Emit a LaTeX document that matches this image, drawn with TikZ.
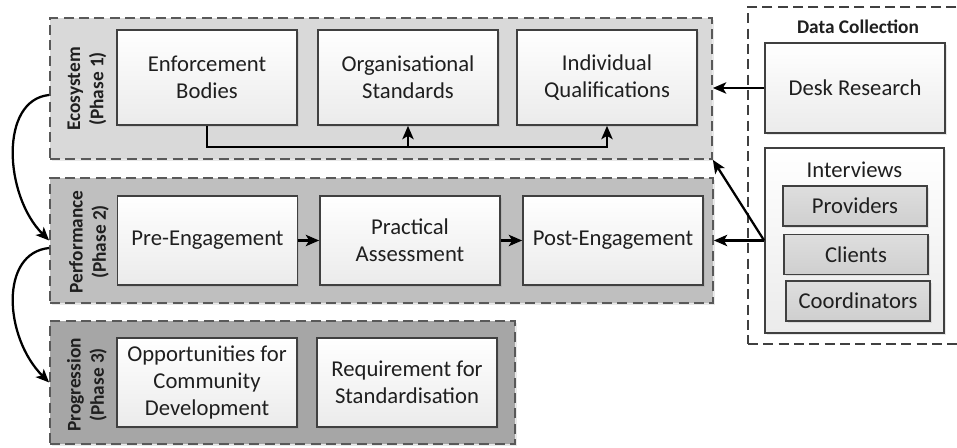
\documentclass[tikz,border=0pt]{standalone}
\usepackage{fontspec}
\setmainfont{Carlito}
\usetikzlibrary{arrows.meta,shadows,calc}

\definecolor{boxline}{HTML}{404040}
\definecolor{dashline}{HTML}{595959}
\definecolor{boxshade}{HTML}{EBEBEB}
\definecolor{phaseone}{HTML}{D9D9D9}
\definecolor{phasetwo}{HTML}{BFBFBF}
\definecolor{phasethree}{HTML}{A6A6A6}
\definecolor{subtop}{HTML}{DEDEDE}
\definecolor{subbottom}{HTML}{CFCFCF}
\definecolor{textcol}{HTML}{1F1F1F}

\tikzset{every picture/.style={line width=0.75pt}}
\tikzset{
	softshadow/.style={drop shadow={shadow xshift=1.2pt,shadow yshift=-1.2pt,opacity=.18}},
	phasebox/.style={draw=dashline,line width=1.3pt,dash pattern={on 7.5pt off 4pt},inner sep=0pt,softshadow},
	stagebox/.style={draw=boxline,line width=1.3pt,top color=white,bottom color=boxshade,
		minimum width=135pt,align=center,text=textcol,font=\fontsize{17}{20.5}\selectfont,softshadow},
	subbox/.style={draw=boxline,line width=1.3pt,top color=subtop,bottom color=subbottom,
		minimum width=108pt,minimum height=30pt,text=textcol,font=\fontsize{17}{20.5}\selectfont,softshadow},
	phaselabel/.style={rotate=90,align=center,text=textcol,font=\fontsize{14.5}{17.5}\selectfont\bfseries},
	flow/.style={draw=black,line width=1.7pt,-{Stealth[length=10pt,width=8.5pt,inset=2.5pt]}}
}

\begin{document}
\begin{tikzpicture}[x=0.75pt,y=0.75pt,yscale=-1,xscale=1]
	\useasboundingbox (0,0) rectangle (957,448);
	
	% Containers
	\node [phasebox,fill=phaseone,minimum width=496.5pt,minimum height=105.75pt] (phase1) at (381,88.5) {};
	\node [phasebox,fill=phasetwo,minimum width=497.25pt,minimum height=93.75pt] (phase2) at (381.5,240.5) {};
	\node [phasebox,fill=phasethree,minimum width=348.75pt,minimum height=92.25pt] (phase3) at (282.5,382.5) {};
	\node [draw=boxline,line width=1pt,dash pattern={on 7.5pt off 4pt},fill=white,inner sep=0pt,
		minimum width=170.25pt,minimum height=252.75pt] (datacoll) at (861.5,175.5) {};
	
	% Text Node
	\node [phaselabel] (lab1) at (87,89) {Ecosystem\\(Phase 1)};
	\node [phaselabel] (lab2) at (89,242) {Performance\\(Phase 2)};
	\node [phaselabel] (lab3) at (87,385) {Progression\\(Phase 3)};
	\node [text=textcol,font=\fontsize{14.5}{17.5}\selectfont\bfseries] (dctitle) at (858,27) {Data Collection};
	
	% Phase 1 stages
	\node [stagebox,minimum height=71.25pt] (enf) at (207,77.5) {Enforcement\\Bodies};
	\node [stagebox,minimum height=71.25pt] (org) at (408,77.5) {Organisational\\Standards};
	\node [stagebox,minimum height=71.25pt] (indiv) at (607,77.5) {Individual\\Qualifications};
	
	% Phase 2 stages
	\node [stagebox,minimum height=66.75pt] (pre) at (207.5,240.5) {Pre-Engagement};
	\node [stagebox,minimum height=66.75pt] (prac) at (410,240.5) {Practical\\Assessment};
	\node [stagebox,minimum height=66.75pt] (post) at (613,240.5) {Post-Engagement};
	
	% Phase 3 stages
	\node [stagebox,minimum height=66.75pt] (opp) at (207,382.5) {Opportunities for\\Community\\Development};
	\node [stagebox,minimum height=66.75pt] (req) at (407,382.5) {Requirement for\\Standardisation};
	
	% Sources
	\node [stagebox,minimum height=67.5pt] (desk) at (855,88) {Desk Research};
	\node [stagebox,minimum width=134.25pt,minimum height=138.75pt] (intv) at (854.5,240.5) {};
	\node [text=textcol,font=\fontsize{17}{20.5}\selectfont] (intvtitle) at (854.5,170) {Interviews};
	\node [subbox] (prov) at (855,206) {Providers};
	\node [subbox] (cli) at (856,254.5) {Clients};
	\node [subbox] (coord) at (858,301) {Coordinators};
	
	%Straight Lines
	\coordinate (bus) at (0,147);
	\draw [flow] (enf.south) |- (bus -| indiv.south) -- (indiv.south);
	\draw [flow] (bus -| org.south) -- (org.south);
	\draw [flow] (pre.east) -- (prac.west);
	\draw [flow] (prac.east) -- (post.west);
	\draw [flow] (desk.west) -- (desk.west -| phase1.east);
	\draw [flow] (intv.west) -- (intv.west -| phase2.east);
	\draw [flow] (intv.west) -- (phase1.south east);
	
	%Curve Lines
	\draw [flow] ($(phase1.west)+(0,6.5)$) .. controls +(-50,5) and +(-45,-45) .. (phase2.west);
	\draw [flow] ($(phase2.west)+(0,7.5)$) .. controls +(-50,5) and +(-45,-45) .. (phase3.west);
	
\end{tikzpicture}
\end{document}
